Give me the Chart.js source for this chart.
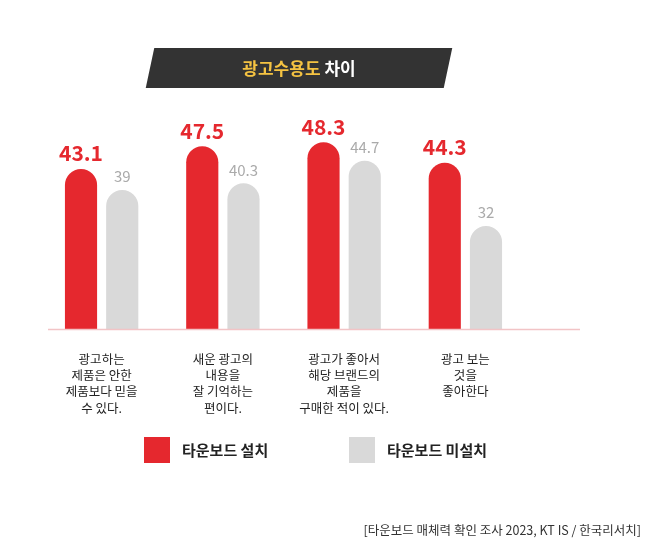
<!DOCTYPE html><html><head><meta charset="utf-8">
<script src="https://cdn.jsdelivr.net/npm/chart.js@4"></script>
<style>
body{margin:0;width:663px;height:558px;background:#fff;font-family:"Noto Sans CJK KR","Noto Sans",sans-serif;position:relative;overflow:hidden}
#wrap{position:absolute;left:0;top:0;width:663px;height:558px}
#title{position:absolute;left:150px;top:48px;width:298px;height:40px;background:#333;transform:skewX(-12deg)}
#tt{position:absolute;left:150px;top:48px;width:298px;height:40px;line-height:40px;text-align:center;font-weight:bold;font-size:17px;color:#fff}
.lg{position:absolute;top:437px;font-weight:bold;font-size:15px;color:#222;line-height:26px}
.lg span{display:inline-block;width:26px;height:26px;vertical-align:top;margin-right:12px}
#src{position:absolute;right:22px;top:520px;font-size:12.5px;color:#333}
</style></head><body>
<div id="wrap"><canvas id="c"></canvas></div>
<div id="title"></div><div id="tt"><span style="color:#f5c342">광고수용도</span> 차이</div>
<div class="lg" style="left:144px"><span style="background:#e5282e"></span>타운보드 설치</div>
<div class="lg" style="left:349px"><span style="background:#d9d9d9"></span>타운보드 미설치</div>
<div id="src">[타운보드 매체력 확인 조사 2023, KT IS / 한국리서치]</div>
<script>
const categories=[["광고하는","제품은 안한","제품보다 믿을","수 있다."],["새운 광고의","내용을","잘 기억하는","편이다."],["광고가 좋아서","해당 브랜드의","제품을","구매한 적이 있다."],["광고 보는","것을","좋아한다"]];
const installed=[43.1,47.5,48.3,44.3];
const notInstalled=[39,40.3,44.7,32];
const labelPlugin={id:'lbl',afterDatasetsDraw(ch){const x=ch.ctx;
 ch.data.datasets.forEach((d,i)=>{ch.getDatasetMeta(i).data.forEach((b,j)=>{
  x.save();x.textAlign='center';x.textBaseline='bottom';
  if(i===0){x.fillStyle='#e5282e';x.font='bold 21px "Noto Sans CJK KR"';}else{x.fillStyle='#aaa';x.font='15px "Noto Sans CJK KR"';}
  x.fillText(d.data[j],b.x,b.y-(i===0?5:6));x.restore();});});
 const a=ch.chartArea;x.save();x.strokeStyle='#f2c4c6';x.lineWidth=1.5;x.beginPath();x.moveTo(48,a.bottom+0.5);x.lineTo(580,a.bottom+0.5);x.stroke();x.restore();}};
new Chart(document.getElementById('c'),{type:'bar',
data:{labels:categories,datasets:[
 {data:installed,backgroundColor:'#e5282e',borderRadius:{topLeft:16,topRight:16},borderSkipped:'bottom'},
 {data:notInstalled,backgroundColor:'#d9d9d9',borderRadius:{topLeft:16,topRight:16},borderSkipped:'bottom'}]},
options:{responsive:true,maintainAspectRatio:false,animation:false,
 layout:{padding:{left:41,right:137,top:100,bottom:0}},
 categoryPercentage:0.68,barPercentage:0.78,
 plugins:{legend:{display:false},tooltip:{enabled:false}},
 scales:{y:{display:false,min:12,max:56.5},
  x:{grid:{display:false},border:{display:false},afterFit(s){s.height=558-329;},
   ticks:{color:'#222',font:{size:12.5,family:'"Noto Sans CJK KR"',lineHeight:1.3},padding:14,maxRotation:0,autoSkip:false}}}},
plugins:[labelPlugin]});
</script></body></html>
